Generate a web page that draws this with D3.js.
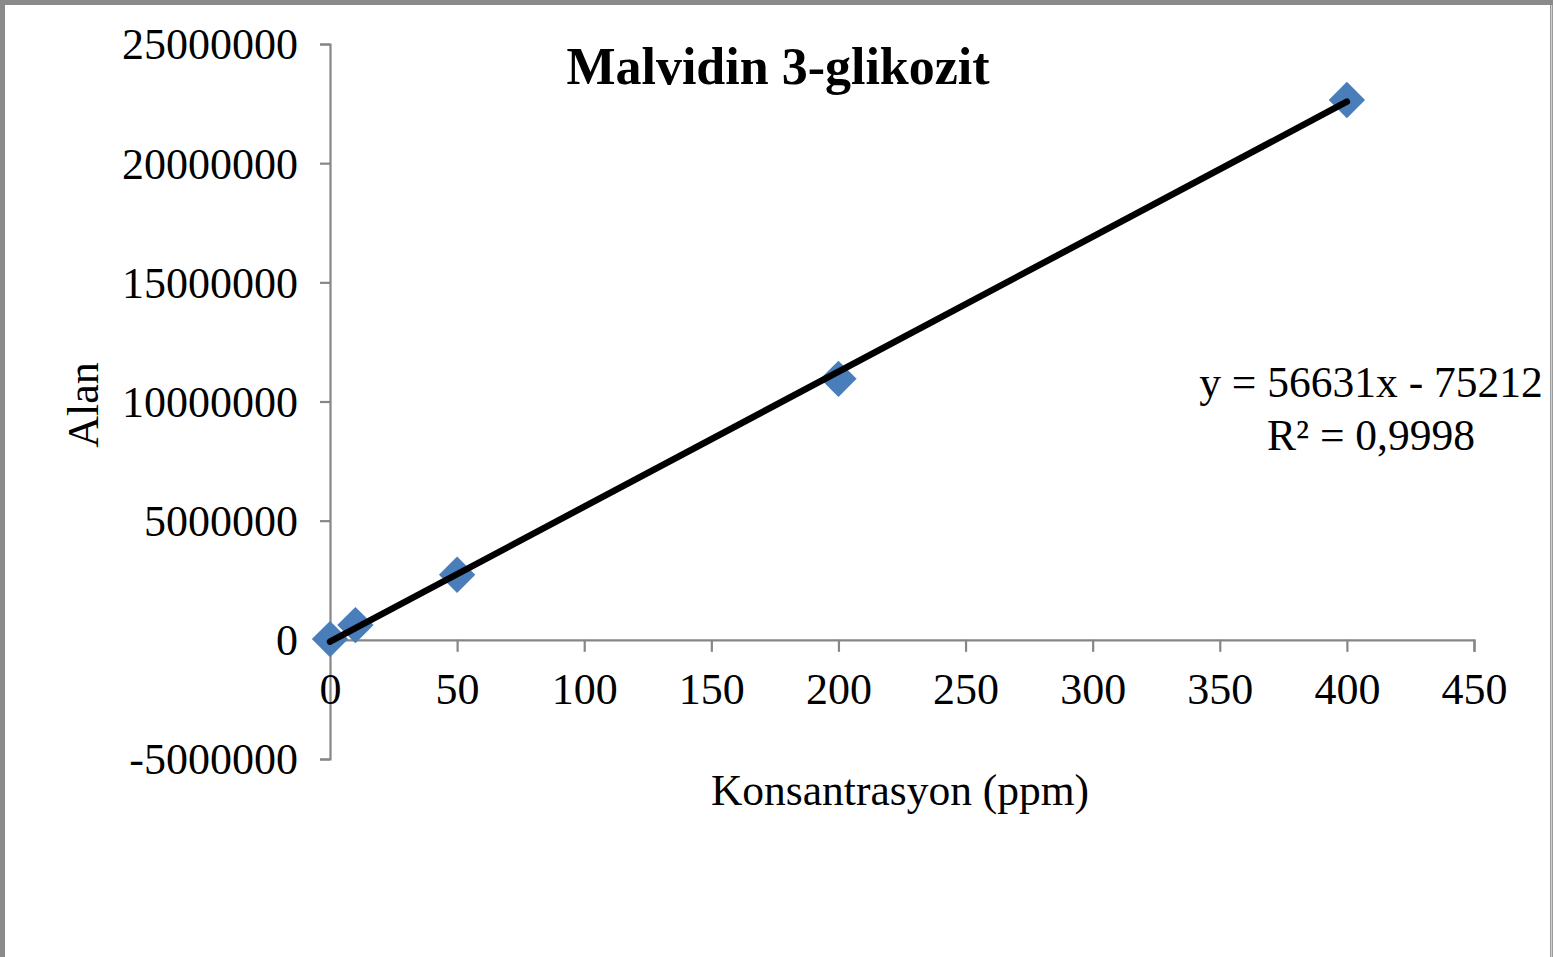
<!DOCTYPE html>
<html><head><meta charset="utf-8">
<script src="https://cdn.jsdelivr.net/npm/d3@7"></script>
<style>html,body{margin:0;padding:0;background:#fff;}svg{display:block;}</style>
</head><body>
<script>
const concentrations = [0, 10, 50, 200, 400];
const areas = [30000, 620000, 2730000, 10950000, 22650000];
const xTicks = [0, 50, 100, 150, 200, 250, 300, 350, 400, 450];
const yTicks = [-5000000, 0, 5000000, 10000000, 15000000, 20000000, 25000000];
const trendSlope = 56631;
const trendIntercept = -75212;
const titleText = "Malvidin 3-glikozit";
const xLabel = "Konsantrasyon (ppm)";
const yLabel = "Alan";
const eqLine1 = "y = 56631x - 75212";
const eqLine2 = "R² = 0,9998";

const W = 1553, H = 957;
const svg = d3.select("body").append("svg").attr("width", W).attr("height", H);
svg.append("rect").attr("width", W).attr("height", H).attr("fill", "#fff");
// frame
svg.append("rect").attr("x", 2.5).attr("y", 2.5).attr("width", W - 3).attr("height", H + 20)
  .attr("fill", "none").attr("stroke", "#8a8a8a").attr("stroke-width", 5);
svg.append("line").attr("x1", W - 1.5).attr("x2", W - 1.5).attr("y1", 5).attr("y2", H)
  .attr("stroke", "#d0d0d0").attr("stroke-width", 1.5);

const x = d3.scaleLinear().domain([0, 450]).range([330, 1474]);
const y = d3.scaleLinear().domain([-5000000, 25000000]).range([759, 44]);
const font = "'Liberation Serif', 'Times New Roman', serif";
const axisColor = "#868686";

// y axis
const yAxis = svg.append("g").attr("transform", `translate(${x(0)},0)`)
  .call(d3.axisLeft(y).tickValues(yTicks).tickSize(10).tickPadding(22).tickFormat(d => String(d)));
// x axis at y=0
const xAxis = svg.append("g").attr("transform", `translate(0,${y(0)})`)
  .call(d3.axisBottom(x).tickValues(xTicks).tickSize(12).tickPadding(20).tickFormat(d => String(d)));
[yAxis, xAxis].forEach(g => {
  g.select(".domain").attr("stroke", axisColor).attr("stroke-width", 2.2);
  g.selectAll(".tick line").attr("stroke", axisColor).attr("stroke-width", 2.2);
  g.selectAll("text").attr("font-family", font).attr("font-size", 44).attr("fill", "#000");
});
yAxis.selectAll("text").attr("dy", "0.34em");
xAxis.selectAll("text").attr("dy", "0.72em");

// markers
svg.append("g").selectAll("path").data(concentrations).join("path")
  .attr("d", d3.symbol(d3.symbolSquare, 660)())
  .attr("transform", (d, i) => `translate(${x(d)},${y(areas[i])}) rotate(45)`)
  .attr("fill", "#4a7ebb");

// trendline
const xMin = d3.min(concentrations), xMax = d3.max(concentrations);
svg.append("line")
  .attr("x1", x(xMin)).attr("y1", y(trendSlope * xMin + trendIntercept))
  .attr("x2", x(xMax)).attr("y2", y(trendSlope * xMax + trendIntercept))
  .attr("stroke", "#000").attr("stroke-width", 6.5).attr("stroke-linecap", "round");

// title
svg.append("text").attr("x", 778).attr("y", 84).attr("text-anchor", "middle")
  .attr("font-family", font).attr("font-weight", "bold").attr("font-size", 52).text(titleText);
// axis titles
svg.append("text").attr("transform", "translate(98,405) rotate(-90)").attr("text-anchor", "middle")
  .attr("font-family", font).attr("font-size", 44).text(yLabel);
svg.append("text").attr("x", 900).attr("y", 805).attr("text-anchor", "middle")
  .attr("font-family", font).attr("font-size", 43.5).text(xLabel);
// equation
svg.append("text").attr("x", 1371).attr("y", 397).attr("text-anchor", "middle")
  .attr("font-family", font).attr("font-size", 43.5).text(eqLine1);
svg.append("text").attr("x", 1371).attr("y", 450).attr("text-anchor", "middle")
  .attr("font-family", font).attr("font-size", 43.5).text(eqLine2);
</script>
</body></html>
